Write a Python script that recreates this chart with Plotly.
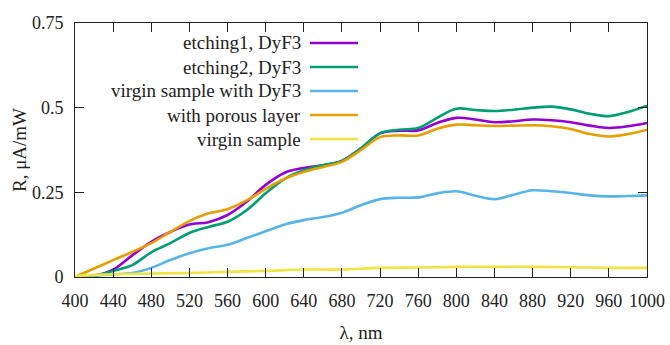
import plotly.graph_objects as go

wavelength = list(range(400, 1001, 20))
etching1 = [0, 0.004, 0.022, 0.064, 0.104, 0.133, 0.155, 0.162, 0.183, 0.222, 0.272, 0.308, 0.322, 0.33, 0.343,
            0.38, 0.424, 0.432, 0.433, 0.455, 0.47, 0.465, 0.457, 0.46, 0.465, 0.463, 0.457, 0.447, 0.44, 0.445, 0.455]
etching2 = [0, 0.003, 0.018, 0.035, 0.073, 0.1, 0.13, 0.148, 0.163, 0.197, 0.247, 0.29, 0.315, 0.33, 0.343,
            0.38, 0.425, 0.435, 0.44, 0.47, 0.497, 0.493, 0.49, 0.494, 0.5, 0.503, 0.495, 0.482, 0.475, 0.487, 0.506]
virgin_dyf3 = [0, 0.004, 0.008, 0.012, 0.027, 0.05, 0.07, 0.085, 0.095, 0.115, 0.135, 0.155, 0.168, 0.177, 0.19,
               0.212, 0.23, 0.234, 0.235, 0.247, 0.253, 0.24, 0.23, 0.243, 0.256, 0.253, 0.248, 0.241, 0.238, 0.239, 0.241]
porous = [0, 0.025, 0.05, 0.074, 0.1, 0.133, 0.165, 0.188, 0.2, 0.226, 0.26, 0.29, 0.31, 0.325, 0.34,
          0.375, 0.413, 0.418, 0.418, 0.438, 0.45, 0.448, 0.446, 0.447, 0.448, 0.445, 0.437, 0.422, 0.415, 0.422, 0.435]
wavelength_v = list(range(400, 1001, 40))
virgin = [0.003, 0.008, 0.01, 0.012, 0.015, 0.018, 0.022, 0.022, 0.027, 0.028, 0.03, 0.03, 0.03, 0.029, 0.027, 0.027]

names = ["etching1, DyF3", "etching2, DyF3", "virgin sample with DyF3", "with porous layer", "virgin sample"]
colors = ["#9400D3", "#009E73", "#56B4E9", "#E69F00", "#F0E442"]
series = [(wavelength, etching1), (wavelength, etching2), (wavelength, virgin_dyf3), (wavelength, porous),
          (wavelength_v, virgin)]

x_ticks = list(range(400, 1001, 40))
y_ticks = [0, 0.25, 0.5, 0.75]
y_ticklabels = ["0", "0.25", "0.5", "0.75"]

FONT = "Liberation Serif, Times New Roman, serif"

fig = go.Figure()
for (xs, ys), n, c in zip(series, names, colors):
    fig.add_trace(go.Scatter(x=xs, y=ys, name=n, mode="lines",
                             line=dict(color=c, width=2.6, shape="spline", smoothing=1.0),
                             showlegend=False))

# manual legend (text right-aligned, sample line to the right)
L, R, T, B = 75, 647, 23, 277
row_y = [43, 67, 91, 115, 139]
for n, c, py in zip(names, colors, row_y):
    yp = (B - py) / (B - T)
    fig.add_annotation(x=(303 - L) / (R - L), y=yp, xref="paper", yref="paper", text=n,
                       showarrow=False, xanchor="right", yanchor="middle",
                       font=dict(family=FONT, size=19, color="#222"))
    fig.add_shape(type="line", xref="paper", yref="paper",
                  x0=(310 - L) / (R - L), x1=(358 - L) / (R - L), y0=yp, y1=yp,
                  line=dict(color=c, width=2.6))

axis_common = dict(showline=True, linecolor="#222", linewidth=1, mirror="allticks",
                   ticks="inside", ticklen=9, tickcolor="#222", tickwidth=1,
                   showgrid=False, zeroline=False, automargin=False,
                   tickfont=dict(family=FONT, size=18, color="#222"))

fig.update_layout(
    width=670, height=345,
    margin=dict(l=L, r=670 - R, t=T, b=345 - B),
    plot_bgcolor="white", paper_bgcolor="white",
    font=dict(family=FONT),
    xaxis=dict(range=[400, 1000], tickvals=x_ticks, ticklabelstandoff=7,
               title=dict(text="λ, nm", font=dict(family=FONT, size=19, color="#222"), standoff=16),
               **axis_common),
    yaxis=dict(range=[0, 0.75], tickvals=y_ticks, ticktext=y_ticklabels, ticklabelstandoff=7,
               title=dict(text="R, μA/mW", font=dict(family=FONT, size=19, color="#222"), standoff=0),
               **axis_common),
)

fig.write_html("out.html")
